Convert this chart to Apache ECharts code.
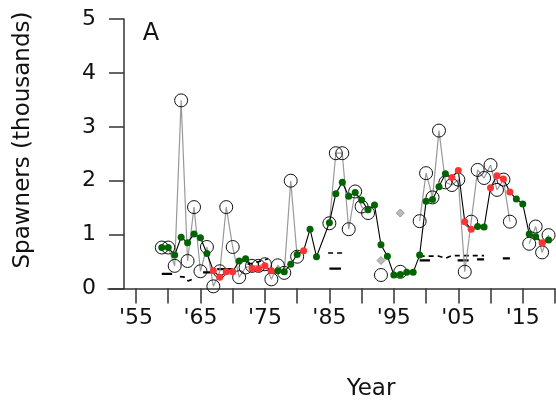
<!DOCTYPE html>
<html><head><meta charset="utf-8">
<script src="https://cdn.jsdelivr.net/npm/echarts@6/dist/echarts.min.js"></script>
<style>html,body{margin:0;padding:0;background:#fff}#c{width:556px;height:409px}</style>
</head><body><div id="c"></div>
<script>
// Observed spawners (open circles, grey line); null = no observation
const obsYears = [1959,1960,1961,1962,1963,1964,1965,1966,1967,1968,1969,1970,1971,1972,1973,1974,1975,1976,1977,1978,1979,1980,1981,1982,1983,1984,1985,1986,1987,1988,1989,1990,1991,1992,1993,1994,1995,1996,1997,1998,1999,2000,2001,2002,2003,2004,2005,2006,2007,2008,2009,2010,2011,2012,2013,2014,2015,2016,2017,2018,2019];
const obsValues = [0.76,0.76,0.42,3.49,0.51,1.51,0.32,0.77,0.04,0.32,1.51,0.77,0.21,0.39,0.42,0.42,0.45,0.17,0.43,0.29,2.00,0.59,null,null,null,null,1.21,2.51,2.51,1.10,1.80,1.52,1.40,null,0.25,null,null,0.31,null,null,1.25,2.14,1.69,2.93,1.97,1.92,2.02,0.31,1.24,2.20,2.05,2.29,1.83,2.02,1.24,null,null,0.83,1.15,0.67,0.99];

// Estimated spawners (filled dots, black line)
const estYears = [1959,1960,1961,1962,1963,1964,1965,1966,1967,1968,1969,1970,1971,1972,1973,1974,1975,1976,1977,1978,1979,1980,1981,1982,1983,1985,1986,1987,1988,1989,1990,1991,1992,1993,1994,1995,1996,1997,1998,1999,2000,2001,2002,2003,2004,2005,2006,2007,2008,2009,2010,2011,2012,2013,2014,2015,2016,2017,2018,2019];
const estValues = [0.76,0.76,0.62,0.95,0.85,1.01,0.94,0.65,0.33,0.21,0.31,0.31,0.51,0.55,0.37,0.36,0.42,0.33,0.33,0.31,0.45,0.63,0.70,1.10,0.59,1.22,1.76,1.97,1.71,1.78,1.64,1.46,1.55,0.81,0.60,0.25,0.26,0.30,0.30,0.62,1.62,1.65,1.89,2.13,2.06,2.19,1.24,1.10,1.15,1.14,1.87,2.09,2.03,1.79,1.66,1.57,1.01,0.96,0.85,0.90];
// 1 = green class, 0 = red class
const estClass = [1,1,1,1,1,1,1,1,0,0,0,0,1,1,0,0,0,0,1,1,1,1,0,1,1,1,1,1,1,1,1,1,1,1,1,1,1,1,1,1,1,1,1,1,0,0,0,0,1,1,0,0,0,0,1,1,1,1,0,1];

// Grey diamonds
const diamondYears = [1993, 1996];
const diamondValues = [0.52, 1.40];

// Goal reference segments (null separates segments)
const goalSolidYears  = [1959,1960.6,null,1965.4,1966.9,null,1967.6,1970,null,1985,1986.8,null,1999,2000.6,null,2004.9,2006.6,null,2007.9,2009,null,2011.9,2013];
const goalSolidValues = [0.27,0.27,null,0.30,0.30,null,0.36,0.36,null,0.37,0.37,null,0.52,0.52,null,0.52,0.52,null,0.54,0.54,null,0.56,0.56];
const goalDashedYears  = [1961.8,1962.6,1963.1,1963.9,null,1972.3,1973.5,1975.5,null,1984.8,1987.3,null,1999,2002,2003,2004,2009];
const goalDashedValues = [0.22,0.21,0.14,0.18,null,0.45,0.48,0.55,null,0.66,0.66,null,0.60,0.60,0.56,0.61,0.61];

const xTickValues = [1955,1960,1965,1970,1975,1980,1985,1990,1995,2000,2005,2010,2015,2020];
const xLabelValues = [1955,1965,1975,1985,1995,2005,2015];
const yMin = 0, yMax = 5, yStep = 1;

const FONT = 'DejaVu Sans';
const pair = (xs, ys) => xs.map((x, i) => (x === null || ys[i] === null) ? [x === null ? NaN : x, '-'] : [x, ys[i]]);

const chart = echarts.init(document.getElementById('c'), null, {renderer: 'canvas'});
chart.setOption({
  animation: false,
  backgroundColor: '#fff',
  grid: [
    {left: 108, top: 19, width: 447, height: 269.5},
    {left: 124, top: 19, width: 431, height: 269.5}
  ],
  xAxis: [
    {gridIndex: 0, type: 'value', min: 1950.655, max: 2020,
     axisLine: {show: true, onZero: false, lineStyle: {color: '#333', width: 1.5}},
     axisTick: {show: true, customValues: xTickValues, length: 15, lineStyle: {color: '#333', width: 1.5}},
     axisLabel: {show: true, customValues: xLabelValues, formatter: v => "'" + String(v).slice(2),
                 margin: 19, fontSize: 22, color: '#111', fontFamily: FONT},
     splitLine: {show: false}},
    {gridIndex: 1, type: 'value', min: 0, max: 1, show: false}
  ],
  yAxis: [
    {gridIndex: 0, type: 'value', min: yMin, max: yMax, show: false},
    {gridIndex: 1, type: 'value', min: yMin, max: yMax, interval: yStep,
     axisLine: {show: true, lineStyle: {color: '#333', width: 1.5}},
     axisTick: {show: true, length: 15, lineStyle: {color: '#333', width: 1.5}},
     axisLabel: {margin: 28, fontSize: 22, color: '#111', fontFamily: FONT},
     splitLine: {show: false}}
  ],
  graphic: [
    {type: 'text', x: 23, y: 140, rotation: Math.PI / 2,
     style: {text: 'Spawners (thousands)', align: 'center', verticalAlign: 'middle', font: '23px "DejaVu Sans"', fill: '#111'}},
    {type: 'text', x: 371, y: 389,
     style: {text: 'Year', align: 'center', verticalAlign: 'middle', font: '23px "DejaVu Sans"', fill: '#111'}},
    {type: 'text', x: 151, y: 34,
     style: {text: 'A', align: 'center', verticalAlign: 'middle', font: '24px "DejaVu Sans"', fill: '#111'}}
  ],
  series: [
    {type: 'line', xAxisIndex: 0, yAxisIndex: 0, data: pair(goalSolidYears, goalSolidValues),
     showSymbol: false, connectNulls: false, lineStyle: {color: '#000', width: 2.2}, z: 2},
    {type: 'line', xAxisIndex: 0, yAxisIndex: 0, data: pair(goalDashedYears, goalDashedValues),
     showSymbol: false, connectNulls: false, lineStyle: {color: '#000', width: 1.6, type: [5, 4]}, z: 2},
    {type: 'line', xAxisIndex: 0, yAxisIndex: 0, data: pair(obsYears, obsValues),
     connectNulls: false, symbol: 'circle', symbolSize: 13, showSymbol: true,
     lineStyle: {color: '#999', width: 1.2},
     itemStyle: {color: 'rgba(0,0,0,0)', borderColor: '#111', borderWidth: 1}, z: 3},
    {type: 'line', xAxisIndex: 0, yAxisIndex: 0,
     data: estYears.map((y, i) => ({value: [y, estValues[i]],
       itemStyle: {color: estClass[i] ? '#006400' : '#ff3333'}})),
     symbol: 'circle', symbolSize: 7, showSymbol: true,
     lineStyle: {color: '#000', width: 1.1},
     itemStyle: {borderWidth: 0}, z: 4},
    {type: 'scatter', xAxisIndex: 0, yAxisIndex: 0,
     data: diamondYears.map((y, i) => [y, diamondValues[i]]),
     symbol: 'diamond', symbolSize: 8, itemStyle: {color: '#aaa', borderColor: '#888', borderWidth: 1}, z: 4}
  ]
});
</script>
</body></html>
